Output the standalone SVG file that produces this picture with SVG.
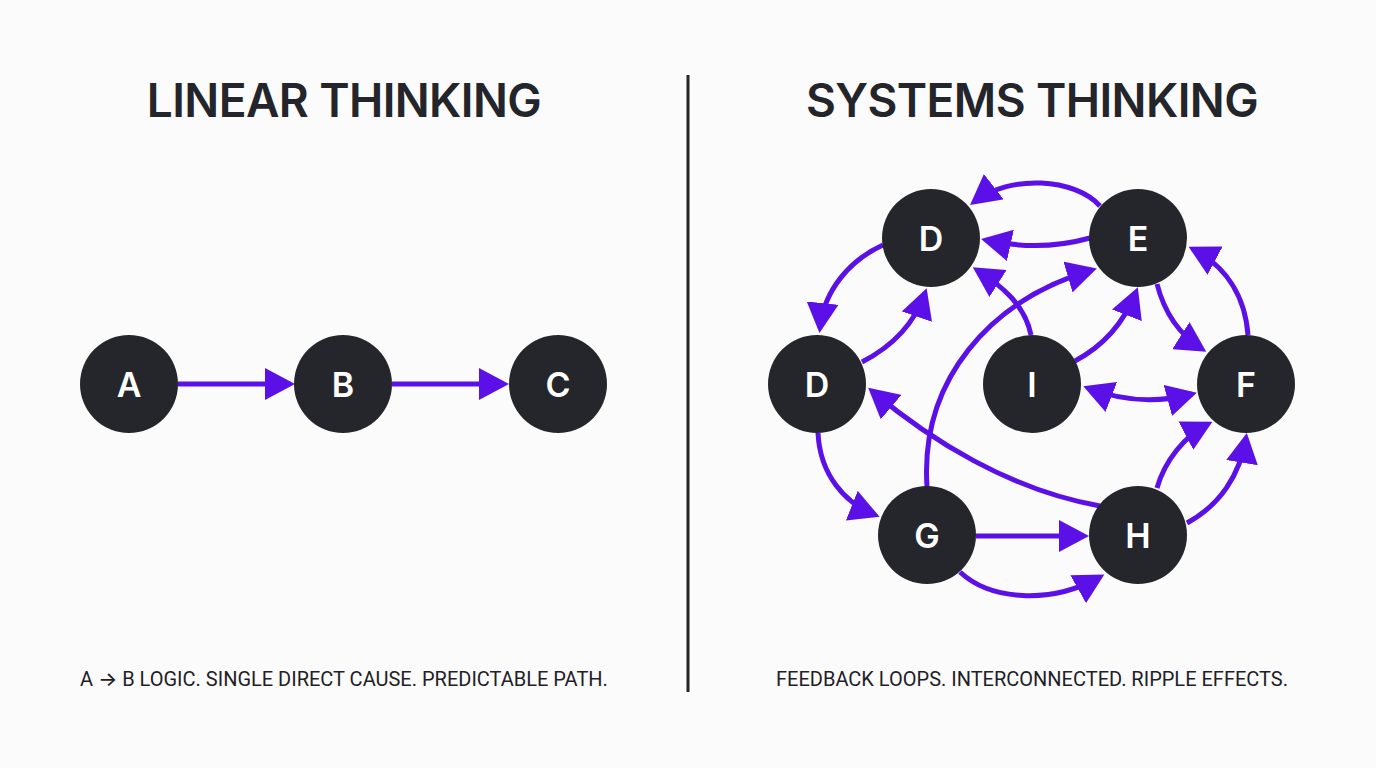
<svg xmlns="http://www.w3.org/2000/svg" width="1376" height="768" viewBox="0 0 1376 768">
<defs>
<marker id="ah" viewBox="0 0 6 6.4" markerWidth="6" markerHeight="6.4" refX="5" refY="3.2" orient="auto-start-reverse" markerUnits="strokeWidth">
<path d="M0,0 L6,3.2 L0,6.4 z" fill="#5B10E8"/>
</marker>
</defs>
<style>
.bg{fill:#fbfbfb}
.title{font-family:Inter,"Liberation Sans",sans-serif;font-weight:600;font-size:46px;letter-spacing:-0.6px;fill:#23252a;text-anchor:middle}
.cap{font-family:Roboto,"Liberation Sans",sans-serif;font-size:20px;fill:#1f2126;text-anchor:middle}
.arr{font-family:Inter,"DejaVu Sans",sans-serif;font-weight:500}
.node circle{fill:#24262b}
.node text{font-family:Inter,"Liberation Sans",sans-serif;font-weight:600;font-size:34px;fill:#ffffff;text-anchor:middle;dominant-baseline:central}
.edge{fill:none;stroke:#5B10E8;stroke-width:5;marker-end:url(#ah)}
.both{marker-start:url(#ah)}
</style>
<rect class="bg" x="0" y="0" width="1376" height="768"/>
<text class="title" x="344" y="117">LINEAR THINKING</text>
<text class="title" x="1032" y="117">SYSTEMS THINKING</text>
<line x1="688" y1="75" x2="688" y2="692" stroke="#23252a" stroke-width="3"/>
<text class="cap" x="344" y="686">A <tspan class="arr">→</tspan> B LOGIC. SINGLE DIRECT CAUSE. PREDICTABLE PATH.</text>
<text class="cap" x="1032" y="686">FEEDBACK LOOPS. INTERCONNECTED. RIPPLE EFFECTS.</text>
<g id="connectors">
<path class="edge" d="M178 384 L290 384"/>
<path class="edge" d="M392 384 L504 384"/>
<path class="edge" d="M1100 206 C1075 178 1010 174 974 202"/>
<path class="edge" d="M1090 238 Q1040 252 986 240"/>
<path class="edge" d="M883 245 C850 260 824 290 820 328"/>
<path class="edge" d="M862 362 C895 345 915 322 925 293"/>
<path class="edge" d="M1031 335 C1025 305 1002 286 977 270"/>
<path class="edge" d="M927 487 C920 380 990 300 1092 270"/>
<path class="edge" d="M1100 506 C1010 490 930 440 872 391"/>
<path class="edge" d="M818 433 C820 475 845 503 875 515"/>
<path class="edge" d="M976 536 L1084 536"/>
<path class="edge" d="M960 572 C990 600 1050 605 1100 577"/>
<path class="edge" d="M1157 488 C1165 460 1185 436 1208 424"/>
<path class="edge" d="M1187 523 C1220 505 1240 475 1246 438"/>
<path class="edge" d="M1248 335 C1245 295 1225 266 1193 249"/>
<path class="edge" d="M1157 284 C1165 315 1180 335 1202 349"/>
<path class="edge" d="M1075 361 C1105 345 1125 320 1136 292"/>
<path class="edge both" d="M1088 388 Q1140 408 1192 394"/>
</g>
<g id="node-A" class="node"><circle cx="129" cy="384" r="49"/><text x="129" y="384">A</text></g>
<g id="node-B" class="node"><circle cx="343" cy="384" r="49"/><text x="343" y="384">B</text></g>
<g id="node-C" class="node"><circle cx="558" cy="384" r="49"/><text x="558" y="384">C</text></g>
<g id="node-D1" class="node"><circle cx="931" cy="238" r="49"/><text x="931" y="238">D</text></g>
<g id="node-E" class="node"><circle cx="1138" cy="238" r="49"/><text x="1138" y="238">E</text></g>
<g id="node-D2" class="node"><circle cx="817" cy="384" r="49"/><text x="817" y="384">D</text></g>
<g id="node-I" class="node"><circle cx="1032" cy="384" r="49"/><text x="1032" y="384">I</text></g>
<g id="node-F" class="node"><circle cx="1246" cy="384" r="49"/><text x="1246" y="384">F</text></g>
<g id="node-G" class="node"><circle cx="927" cy="535" r="49"/><text x="927" y="535">G</text></g>
<g id="node-H" class="node"><circle cx="1138" cy="535" r="49"/><text x="1138" y="535">H</text></g>
</svg>
